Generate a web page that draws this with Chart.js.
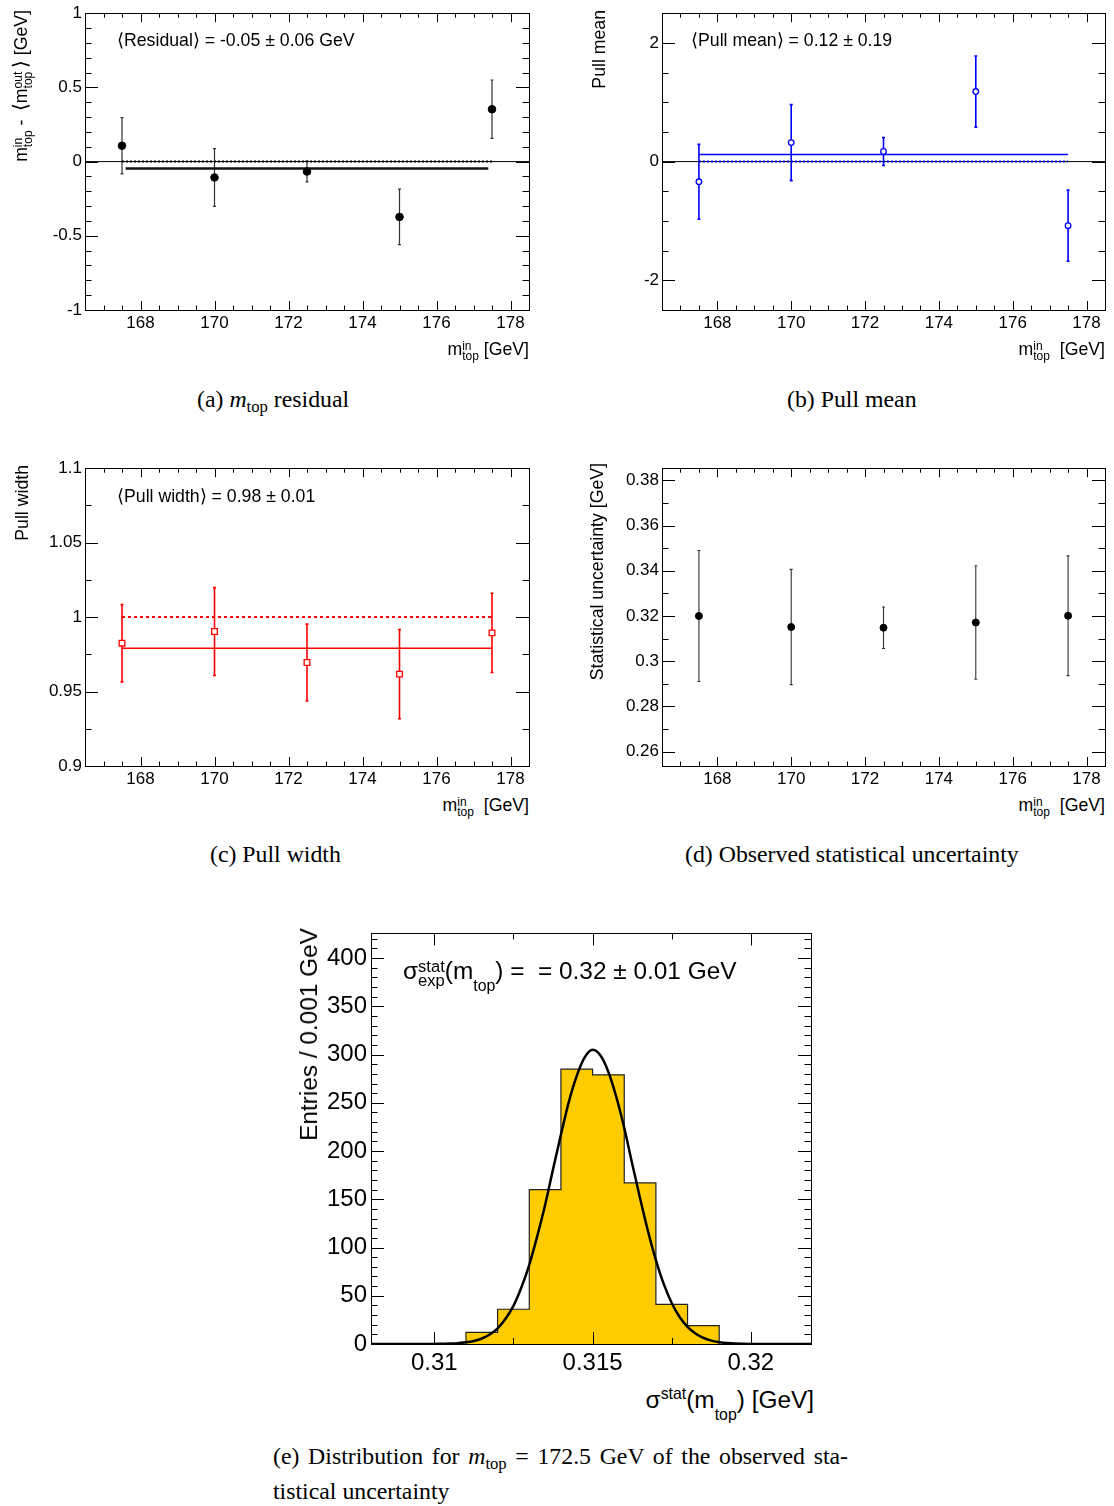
<!DOCTYPE html>
<html>
<head>
<meta charset="utf-8">
<script src="https://cdn.jsdelivr.net/npm/chart.js@4.4.0/dist/chart.umd.min.js"></script>
<style>
  body { margin: 0; background: #fff; width: 1114px; height: 1506px; position: relative; overflow: hidden;
         font-family: 'Liberation Sans', Arial, sans-serif; color: #000; }
  canvas { position: absolute; }
  .lbl { position: absolute; white-space: nowrap; font-size: 17.7px; line-height: 1; }
  .big { font-size: 24.4px; }
  .rot { transform-origin: 0 0; transform: rotate(-90deg) translateX(-100%); }
  .rx { transform: translateX(-100%); }
  .ss { display: inline-block; vertical-align: -0.45em; font-size: 0.68em; line-height: 0.85; }
  .sup { font-size: 0.65em; vertical-align: 0.55em; }
  .sub { font-size: 0.65em; vertical-align: -0.75em; }
  .br { font-size: 1.15em; }
  .cap { position: absolute; font-family: 'Liberation Serif', 'Times New Roman', serif; font-size: 23.8px; white-space: nowrap; line-height: 1; }
  .cap sub { font-size: 0.7em; vertical-align: -0.3em; }
</style>
</head>
<body>

<canvas id="cA" width="540" height="340" style="left:0;top:0"></canvas>
<canvas id="cB" width="534" height="340" style="left:580px;top:0"></canvas>
<canvas id="cC" width="540" height="340" style="left:0;top:455px"></canvas>
<canvas id="cD" width="534" height="340" style="left:580px;top:455px"></canvas>
<canvas id="cE" width="540" height="470" style="left:290px;top:915px"></canvas>

<!-- panel (a) -->
<div class="lbl" style="left:117px;top:32px">⟨Residual⟩ = -0.05 ± 0.06 GeV</div>
<div class="lbl rx" style="left:529px;top:341px">m<span class="ss">in<br>top</span> [GeV]</div>
<div class="lbl rot" style="left:10px;top:10px">m<span class="ss">in<br>top</span> - &thinsp;<span class="br">⟨</span>m<span class="ss">out<br>top</span>&thinsp;<span class="br">⟩</span> [GeV]</div>

<!-- panel (b) -->
<div class="lbl" style="left:691px;top:32px">⟨Pull mean⟩ = 0.12 ± 0.19</div>
<div class="lbl rx" style="left:1105px;top:341px">m<span class="ss">in<br>top</span>&nbsp; [GeV]</div>
<div class="lbl rot" style="left:591px;top:10px">Pull mean</div>

<!-- panel (c) -->
<div class="lbl" style="left:117px;top:488px">⟨Pull width⟩ = 0.98 ± 0.01</div>
<div class="lbl rx" style="left:529px;top:797px">m<span class="ss">in<br>top</span>&nbsp; [GeV]</div>
<div class="lbl rot" style="left:14px;top:465px">Pull width</div>

<!-- panel (d) -->
<div class="lbl rx" style="left:1105px;top:797px">m<span class="ss">in<br>top</span>&nbsp; [GeV]</div>
<div class="lbl rot" style="left:589px;top:463px">Statistical uncertainty [GeV]</div>

<!-- panel (e) -->
<div class="lbl big" style="left:403px;top:959px">σ<span class="ss">stat<br>exp</span>(m<span class="sub">top</span>) = &nbsp;= 0.32 ± 0.01 GeV</div>
<div class="lbl big rx" style="left:814px;top:1386px">σ<span class="sup">stat</span>(m<span class="sub">top</span>) [GeV]</div>
<div class="lbl big rot" style="left:297px;top:928px">Entries / 0.001 GeV</div>

<!-- captions -->
<div class="cap" style="left:197px;top:388px">(a) <i>m</i><sub>top</sub> residual</div>
<div class="cap" style="left:787px;top:388px">(b) Pull mean</div>
<div class="cap" style="left:210px;top:843px">(c) Pull width</div>
<div class="cap" style="left:685px;top:843px">(d) Observed statistical uncertainty</div>
<div class="cap" style="left:273px;top:1445px;width:575px;text-align:justify;text-align-last:justify">(e) Distribution for <i>m</i><sub>top</sub> = 172.5 GeV of the observed sta-</div>
<div class="cap" style="left:273px;top:1480px">tistical uncertainty</div>

<script>
// ── Data ────────────────────────────────────────────────────
const massIn = [167.5, 170, 172.5, 175, 177.5];

const residual = [0.107, -0.107, -0.067, -0.373, 0.353];
const residualErr = [0.19, 0.195, 0.07, 0.187, 0.197];
const residualFit = -0.047;

const pullMean = [-0.34, 0.32, 0.17, 1.18, -1.08];
const pullMeanErr = [0.63, 0.64, 0.235, 0.6, 0.6];
const pullMeanFit = 0.12;

const pullWidth = [0.9825, 0.9903, 0.9695, 0.9617, 0.9894];
const pullWidthErr = [0.026, 0.0295, 0.0258, 0.03, 0.0266];
const pullWidthFit = 0.979;

const statUnc = [0.3200, 0.3151, 0.3148, 0.3171, 0.3201];
const statUncErr = [0.029, 0.0255, 0.0092, 0.0251, 0.0265];

// histogram for m_top = 172.5 GeV
const binEdges = [0.311, 0.312, 0.313, 0.314, 0.315, 0.316, 0.317, 0.318, 0.319];
const binCounts = [12, 36, 160, 285, 279, 167, 41, 19];

// gaussian fit curve
const curveX = [0.308, 0.309, 0.3095, 0.310, 0.3105, 0.31075, 0.311, 0.31125, 0.3115, 0.31175,
  0.312, 0.31225, 0.3125, 0.31275, 0.313, 0.31325, 0.3135, 0.31375, 0.314, 0.31425,
  0.3145, 0.31475, 0.315, 0.31525, 0.3155, 0.31575, 0.316, 0.31625, 0.3165, 0.31675,
  0.317, 0.31725, 0.3175, 0.31775, 0.318, 0.31825, 0.3185, 0.31875, 0.319, 0.31925,
  0.3195, 0.320, 0.321, 0.3219];
const curveY = [0, 0, 0, 0.1, 0.4, 0.9, 1.7, 3.2, 5.7, 9.9,
  16.3, 26.1, 39.5, 58.5, 82, 111.5, 144, 181, 217, 251,
  278, 297, 305, 299, 282, 256, 224, 187, 151, 117,
  87, 62, 42.5, 28, 17.7, 10.8, 6.3, 3.5, 1.9, 1.0,
  0.5, 0.1, 0, 0];

// ── Ticks ───────────────────────────────────────────────────
const massTicks = [168, 170, 172, 174, 176, 178];
const residualTicks = [-1, -0.5, 0, 0.5, 1];
const pullMeanTicks = [-2, 0, 2];
const pullWidthTicks = [0.9, 0.95, 1, 1.05, 1.1];
const statUncTicks = [0.26, 0.28, 0.3, 0.32, 0.34, 0.36, 0.38];
const sigmaTicks = [0.31, 0.315, 0.32];
const entriesTicks = [0, 50, 100, 150, 200, 250, 300, 350, 400];

function steps(from, to, step) {
  const out = [];
  const n = Math.round((to - from) / step);
  for (let i = 0; i <= n; i++) out.push(+(from + i * step).toFixed(6));
  return out;
}

const FONT = "'Liberation Sans', Arial, sans-serif";

// ── Plugins ─────────────────────────────────────────────────
// ROOT style frame: box with inward ticks on all four sides
function frameTicks(cfg) {
  return {
    id: 'frameTicks',
    afterDatasetsDraw(chart) {
      const { ctx, chartArea: a, scales } = chart;
      ctx.save();
      ctx.strokeStyle = '#000';
      ctx.lineWidth = 1;
      const seg = (x1, y1, x2, y2) => { ctx.beginPath(); ctx.moveTo(x1, y1); ctx.lineTo(x2, y2); ctx.stroke(); };
      const doX = (vals, len) => vals.forEach(v => {
        if (v < scales.x.min || v > scales.x.max) return;
        const p = Math.round(scales.x.getPixelForValue(v)) + 0.5;
        seg(p, a.bottom, p, a.bottom - len);
        seg(p, a.top, p, a.top + len);
      });
      const doY = (vals, len) => vals.forEach(v => {
        if (v < scales.y.min || v > scales.y.max) return;
        const p = Math.round(scales.y.getPixelForValue(v)) + 0.5;
        seg(a.left, p, a.left + len, p);
        seg(a.right, p, a.right - len, p);
      });
      doX(cfg.xMinor, cfg.xLen / 2);
      doX(cfg.xMajor, cfg.xLen);
      doY(cfg.yMinor, cfg.yLen / 2);
      doY(cfg.yMajor, cfg.yLen);
      ctx.strokeRect(Math.round(a.left) + 0.5, Math.round(a.top) + 0.5,
        Math.round(a.right - a.left), Math.round(a.bottom - a.top));
      ctx.restore();
    }
  };
}

function errorBars(xs, ys, errs, color, width) {
  return {
    id: 'errorBars',
    beforeDatasetsDraw(chart) {
      const { ctx, scales } = chart;
      ctx.save();
      ctx.strokeStyle = color;
      ctx.lineWidth = width;
      xs.forEach((x, i) => {
        const px = scales.x.getPixelForValue(x);
        const lo = scales.y.getPixelForValue(ys[i] - errs[i]);
        const hi = scales.y.getPixelForValue(ys[i] + errs[i]);
        ctx.beginPath();
        ctx.moveTo(px, lo); ctx.lineTo(px, hi);
        ctx.moveTo(px - 1.5, lo); ctx.lineTo(px + 1.5, lo);
        ctx.moveTo(px - 1.5, hi); ctx.lineTo(px + 1.5, hi);
        ctx.stroke();
      });
      ctx.restore();
    }
  };
}

// ── Chart factory ───────────────────────────────────────────
function makeChart(id, p) {
  const tickFont = { family: FONT, size: p.fontSize || 17 };
  const fmt = v => String(Math.round(v * 10000) / 10000);
  return new Chart(document.getElementById(id), {
    type: 'line',
    data: { datasets: p.datasets },
    options: {
      responsive: false,
      animation: false,
      devicePixelRatio: 1,
      layout: { padding: p.padding },
      plugins: { legend: { display: false }, tooltip: { enabled: false } },
      scales: {
        x: {
          type: 'linear', min: p.xMin, max: p.xMax,
          grid: { display: false, drawTicks: false }, border: { display: false },
          ticks: { font: tickFont, color: '#000', padding: p.xPad || 3, maxRotation: 0, autoSkip: false, callback: fmt },
          afterBuildTicks: s => { s.ticks = p.xTicks.map(v => ({ value: v })); },
          afterFit: s => { s.height = p.xHeight; }
        },
        y: {
          type: 'linear', min: p.yMin, max: p.yMax,
          grid: { display: false, drawTicks: false }, border: { display: false },
          ticks: { font: tickFont, color: '#000', padding: p.yPad || 3, autoSkip: false, callback: fmt },
          afterBuildTicks: s => { s.ticks = p.yTicks.map(v => ({ value: v })); },
          afterFit: s => { s.width = p.yWidth; }
        }
      }
    },
    plugins: [frameTicks(p.frame), ...(p.extra || [])]
  });
}

const pts = (xs, ys) => xs.map((x, i) => ({ x, y: ys[i] }));
const hline = (y, x0, x1) => [{ x: x0, y }, { x: x1, y }];

function markers(ys, style) {
  return Object.assign({
    data: pts(massIn, ys), showLine: false, order: 0, pointHoverRadius: 0
  }, style);
}
function lineDs(data, color, width, dash, order) {
  return { data, borderColor: color, borderWidth: width, borderDash: dash || [], pointRadius: 0, fill: false, order };
}

const X_MIN = 166.5, X_MAX = 178.5;
const massMinor = steps(166.5, 178.5, 0.5);

// (a) residual
makeChart('cA', {
  xMin: X_MIN, xMax: X_MAX, yMin: -1, yMax: 1,
  xTicks: massTicks, yTicks: residualTicks,
  padding: { top: 10, right: 11, left: 0, bottom: 0 }, yWidth: 85, xHeight: 30,
  frame: { xMajor: massTicks, xMinor: massMinor, xLen: 9, yMajor: residualTicks, yMinor: steps(-1, 1, 0.1), yLen: 13 },
  datasets: [
    markers(residual, { pointRadius: 3.8, pointBackgroundColor: '#000', pointBorderColor: '#000', pointBorderWidth: 1 }),
    lineDs(hline(residualFit, 167.6, 177.4), '#111', 2.5, [], 2),
    lineDs(hline(0, 167.5, 177.5), '#000', 2, [2, 2], 3),
    lineDs(hline(0, X_MIN, X_MAX), '#000', 1, [], 4)
  ],
  extra: [errorBars(massIn, residual, residualErr, '#333', 1.2)]
});

// (b) pull mean
makeChart('cB', {
  xMin: X_MIN, xMax: X_MAX, yMin: -2.5, yMax: 2.5,
  xTicks: massTicks, yTicks: pullMeanTicks,
  padding: { top: 10, right: 9, left: 0, bottom: 0 }, yWidth: 82, xHeight: 30,
  frame: { xMajor: massTicks, xMinor: massMinor, xLen: 9, yMajor: pullMeanTicks, yMinor: steps(-2.5, 2.5, 0.5), yLen: 13 },
  datasets: [
    markers(pullMean, { pointRadius: 2.8, pointBackgroundColor: '#fff', pointBorderColor: '#0000ff', pointBorderWidth: 1.3 }),
    lineDs(hline(pullMeanFit, 167.5, 177.5), '#0000ff', 1.5, [], 2),
    lineDs(hline(0, 167.5, 177.5), '#0000ff', 2, [2, 2], 3),
    lineDs(hline(0, X_MIN, X_MAX), '#000', 1, [], 4)
  ],
  extra: [errorBars(massIn, pullMean, pullMeanErr, '#0000ff', 1.6)]
});

// (c) pull width
makeChart('cC', {
  xMin: X_MIN, xMax: X_MAX, yMin: 0.9, yMax: 1.1,
  xTicks: massTicks, yTicks: pullWidthTicks,
  padding: { top: 10, right: 11, left: 0, bottom: 0 }, yWidth: 85, xHeight: 29,
  frame: { xMajor: massTicks, xMinor: massMinor, xLen: 9, yMajor: pullWidthTicks, yMinor: steps(0.9, 1.1, 0.025), yLen: 13 },
  datasets: [
    markers(pullWidth, { pointStyle: 'rect', pointRadius: 4, pointBackgroundColor: '#fff', pointBorderColor: '#ff0000', pointBorderWidth: 1.3 }),
    lineDs(hline(pullWidthFit, 167.5, 177.5), '#ff0000', 1.5, [], 2),
    lineDs(hline(1, 167.5, 177.5), '#ff0000', 2, [3, 3], 3)
  ],
  extra: [errorBars(massIn, pullWidth, pullWidthErr, '#ff0000', 1.6)]
});

// (d) observed statistical uncertainty
makeChart('cD', {
  xMin: X_MIN, xMax: X_MAX, yMin: 0.2536, yMax: 0.3854,
  xTicks: massTicks, yTicks: statUncTicks,
  padding: { top: 10, right: 9, left: 0, bottom: 0 }, yWidth: 82, xHeight: 29,
  frame: { xMajor: massTicks, xMinor: massMinor, xLen: 9, yMajor: statUncTicks, yMinor: steps(0.26, 0.38, 0.01), yLen: 13 },
  datasets: [
    markers(statUnc, { pointRadius: 3.5, pointBackgroundColor: '#000', pointBorderColor: '#000', pointBorderWidth: 1 })
  ],
  extra: [errorBars(massIn, statUnc, statUncErr, '#333', 1.1)]
});

// (e) distribution of the statistical uncertainty
const histPoints = [{ x: binEdges[0], y: 0 }]
  .concat(binCounts.map((c, i) => ({ x: binEdges[i + 1], y: c })))
  .concat([{ x: binEdges[binEdges.length - 1], y: 0 }]);

makeChart('cE', {
  fontSize: 24,
  xMin: 0.308, xMax: 0.3219, yMin: 0, yMax: 425.6,
  xTicks: sigmaTicks, yTicks: entriesTicks, xPad: 5, yPad: 4,
  padding: { top: 14, right: 19, left: 0, bottom: 0 }, yWidth: 81, xHeight: 41,
  frame: { xMajor: sigmaTicks, xMinor: steps(0.3075, 0.3225, 0.0025), xLen: 12, yMajor: entriesTicks, yMinor: steps(0, 420, 10), yLen: 13 },
  datasets: [
    { data: pts(curveX, curveY), borderColor: '#000', borderWidth: 2.5, pointRadius: 0, fill: false,
      cubicInterpolationMode: 'monotone', order: 0 },
    { data: histPoints, stepped: 'after', borderColor: '#222', borderWidth: 1.2, pointRadius: 0,
      fill: 'origin', backgroundColor: '#ffcc00', order: 1 }
  ]
});
</script>
</body>
</html>
